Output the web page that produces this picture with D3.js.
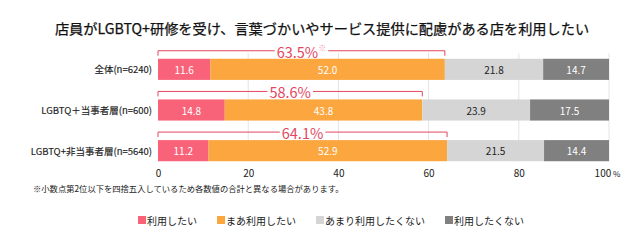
<!DOCTYPE html>
<html><head><meta charset="utf-8">
<script src="https://cdn.jsdelivr.net/npm/d3@7/dist/d3.min.js"></script>
<style>
html,body{margin:0;padding:0;background:#fff;}
svg{display:block;font-family:"Noto Sans CJK JP","Noto Sans",sans-serif;}
</style></head>
<body><svg id="c" width="640" height="247"></svg>
<script>
const title = "店員がLGBTQ+研修を受け、言葉づかいやサービス提供に配慮がある店を利用したい";
const categories = ["全体(n=6240)", "LGBTQ＋当事者層(n=600)", "LGBTQ+非当事者層(n=5640)"];
const seriesNames = ["利用したい", "まあ利用したい", "あまり利用したくない", "利用したくない"];
const want = [11.6, 14.8, 11.2];
const rather = [52.0, 43.8, 52.9];
const notMuch = [21.8, 23.9, 21.5];
const notAtAll = [14.7, 17.5, 14.4];
const positiveTotals = ["63.5%", "58.6%", "64.1%"];
const totalNotes = ["※", "", ""];
const ticks = [0, 20, 40, 60, 80, 100];
const footnote = "※小数点第2位以下を四捨五入しているため各数値の合計と異なる場合があります。";

const colors = ["#f9637a", "#fba63e", "#d5d5d5", "#808080"];
const labelColors = ["#fff", "#fff", "#222", "#fff"];
const accent = "#e3475f";

const svg = d3.select("#c");
const x = d3.scaleLinear().domain([0, 100]).range([158, 609]);
const y = d3.scaleBand().domain(categories).range([49, 171]).paddingInner(0.48).paddingOuter(0.24);

// title
svg.append("text").attr("x", 322).attr("y", 28).attr("text-anchor", "middle")
  .attr("dominant-baseline", "central").attr("font-size", 14.2).attr("font-weight", 400)
  .attr("stroke", "#111").attr("stroke-width", 0.25)
  .attr("fill", "#111").text(title);

// gridlines
const yTop = y(categories[0]) - 6, yBot = y(categories[2]) + y.bandwidth();
svg.append("g").selectAll("line").data(ticks.filter(t => t > 0)).join("line")
  .attr("x1", d => x(d)).attr("x2", d => x(d)).attr("y1", yTop).attr("y2", yBot)
  .attr("stroke", "#e4e4e4").attr("stroke-width", 1);

// stacked data
const rows = categories.map((c, i) => ({cat: c, vals: [want[i], rather[i], notMuch[i], notAtAll[i]]}));
const segs = [];
rows.forEach(r => { let acc = 0; r.vals.forEach((v, k) => { segs.push({cat: r.cat, k, v, x0: acc, x1: acc + v}); acc += v; }); });

svg.append("g").selectAll("rect").data(segs).join("rect")
  .attr("x", d => x(d.x0)).attr("y", d => y(d.cat))
  .attr("width", d => Math.max(0, x(Math.min(100, d.x1)) - x(d.x0))).attr("height", y.bandwidth())
  .attr("fill", d => colors[d.k]);

svg.append("g").selectAll("text").data(segs).join("text")
  .attr("x", d => (x(d.x0) + x(Math.min(100, d.x1))) / 2).attr("y", d => y(d.cat) + y.bandwidth() / 2)
  .attr("text-anchor", "middle").attr("dominant-baseline", "central")
  .attr("font-size", 10).attr("fill", d => labelColors[d.k])
  .text(d => d.v.toFixed(1));

// category labels
svg.append("g").selectAll("text").data(categories).join("text")
  .attr("x", 152).attr("y", d => y(d) + y.bandwidth() / 2)
  .attr("text-anchor", "end").attr("dominant-baseline", "central")
  .attr("font-size", 9.5).attr("fill", "#222").attr("stroke", "#222").attr("stroke-width", 0.15).text(d => d);

// brackets
rows.forEach((r, i) => {
  const by = y(r.cat) - 8;
  const xa = x(0), xb = x(want[i] + rather[i]);
  const g = svg.append("g");
  g.append("path").attr("d", `M${xa},${by + 5}V${by}H${xb}V${by + 5}`)
    .attr("fill", "none").attr("stroke", accent).attr("stroke-width", 1);
  const t = g.append("text").attr("x", (xa + xb) / 2).attr("y", by)
    .attr("text-anchor", "middle").attr("dominant-baseline", "central")
    .attr("font-size", 14.5).attr("fill", accent);
  t.append("tspan").text(positiveTotals[i]);
  if (totalNotes[i]) t.append("tspan").attr("font-size", 8).attr("dy", -4).attr("fill", "#f09aa8").text(totalNotes[i]);
  const bb = t.node().getBBox();
  g.insert("rect", "text").attr("x", bb.x - 2).attr("y", by - 2).attr("width", bb.width + 4).attr("height", 4).attr("fill", "#fff");
});

// axis
const axis = svg.append("g").attr("transform", `translate(0,${yBot})`)
  .call(d3.axisBottom(x).tickValues(ticks).tickSize(0).tickPadding(9).tickFormat(d => d));
axis.select(".domain").remove();
axis.selectAll("text").attr("font-size", 10).attr("fill", "#222").attr("font-family", "'Noto Sans CJK JP',sans-serif");
axis.selectAll(".tick").filter(d => d === 100).select("text").text("100").attr("dx", -2)
  .append("tspan").attr("font-size", 8).text(" %");

// footnote
svg.append("text").attr("x", 33).attr("y", 188).attr("dominant-baseline", "central")
  .attr("font-size", 8.3).attr("fill", "#222").text(footnote);

// legend
const lg = svg.append("g");
let lx = 138;
seriesNames.forEach((n, k) => {
  lg.append("rect").attr("x", lx).attr("y", 216).attr("width", 8).attr("height", 8).attr("fill", colors[k]);
  const t = lg.append("text").attr("x", lx + 9).attr("y", 220).attr("dominant-baseline", "central")
    .attr("font-size", 10).attr("fill", "#222").text(n);
  lx += 9 + t.node().getComputedTextLength() + 20;
});
</script></body></html>
